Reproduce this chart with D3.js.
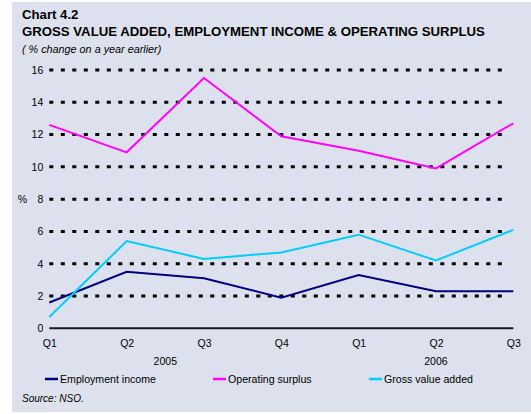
<!DOCTYPE html>
<html>
<head>
<meta charset="utf-8">
<script src="https://cdn.jsdelivr.net/npm/d3@7"></script>
<style>
  html, body { margin: 0; padding: 0; background: #ffffff; }
  svg { display: block; font-family: "Liberation Sans", Arial, sans-serif; }
</style>
</head>
<body>
<svg id="chart" width="531" height="414"></svg>
<script>
// Quarterly periods, Q1 2005 to Q3 2006
const quarters = ["Q1", "Q2", "Q3", "Q4", "Q1", "Q2", "Q3"];
const years = ["2005", "2005", "2005", "2005", "2006", "2006", "2006"];

// % change on a year earlier
const employmentIncome = [1.6, 3.5, 3.1, 1.9, 3.3, 2.3, 2.3];
const operatingSurplus = [12.6, 10.9, 15.5, 11.9, 11.0, 9.9, 12.7];
const grossValueAdded = [0.7, 5.4, 4.3, 4.7, 5.8, 4.2, 6.1];

const yTicks = [0, 2, 4, 6, 8, 10, 12, 14, 16];

const seriesNames = ["Employment income", "Operating surplus", "Gross value added"];
const seriesColors = ["#000080", "#ff00ff", "#00ccff"];

const series = [employmentIncome, operatingSurplus, grossValueAdded].map((values, i) => ({
  name: seriesNames[i], color: seriesColors[i], values
}));

const svg = d3.select("#chart");

// panel background
svg.append("rect")
  .attr("x", 12).attr("y", 2)
  .attr("width", 519).attr("height", 410)
  .attr("fill", "#dce1ed");

// titles
svg.append("text").attr("x", 22).attr("y", 18.5)
  .attr("font-size", 13.2).attr("font-weight", "bold").attr("fill", "#000")
  .text("Chart 4.2");
svg.append("text").attr("x", 22).attr("y", 36)
  .attr("font-size", 13.2).attr("font-weight", "bold").attr("fill", "#000")
  .text("GROSS VALUE ADDED, EMPLOYMENT INCOME & OPERATING SURPLUS");
svg.append("text").attr("x", 22).attr("y", 53)
  .attr("font-size", 10.8).attr("font-style", "italic").attr("fill", "#000")
  .text("( % change on a year earlier)");

// scales
const x = d3.scaleLinear().domain([0, quarters.length - 1]).range([49.3, 513.3]);
const y = d3.scaleLinear().domain([0, 16]).range([328.3, 70]);

// dotted horizontal gridlines
const grid = svg.append("g");
grid.selectAll("line.grid")
  .data(yTicks.filter(d => d > 0))
  .join("line")
  .attr("class", "grid")
  .attr("x1", x(0)).attr("x2", 507)
  .attr("y1", d => y(d)).attr("y2", d => y(d))
  .attr("stroke", "#000").attr("stroke-width", 3)
  .attr("stroke-dasharray", "4,7.5");

// value axis labels
const yAxis = d3.axisLeft(y).tickValues(yTicks).tickSize(0).tickPadding(6).tickFormat(d3.format("d"));
svg.append("g")
  .attr("transform", `translate(${x(0)},0)`)
  .call(yAxis)
  .call(g => g.select(".domain").remove())
  .call(g => g.selectAll("text").attr("font-size", 10.5).attr("fill", "#000")
    .attr("font-family", "'Liberation Sans', Arial, sans-serif"));

svg.append("text").attr("x", 27).attr("y", y(8)).attr("dy", "0.35em")
  .attr("text-anchor", "end").attr("font-size", 10.5).attr("fill", "#000")
  .text("%");

// zero baseline
svg.append("line")
  .attr("x1", x(0)).attr("x2", x(quarters.length - 1))
  .attr("y1", y(0)).attr("y2", y(0))
  .attr("stroke", "#1a1a1a").attr("stroke-width", 2);

// quarter labels
const xAxis = d3.axisBottom(x).tickValues(d3.range(quarters.length)).tickSize(0).tickPadding(11)
  .tickFormat(i => quarters[i]);
svg.append("g")
  .attr("transform", `translate(0,${y(0)})`)
  .call(xAxis)
  .call(g => g.select(".domain").remove())
  .call(g => g.selectAll("text").attr("font-size", 10.5).attr("fill", "#000")
    .attr("font-family", "'Liberation Sans', Arial, sans-serif"));

// year labels, centred under each year's quarters
const yearGroups = d3.groups(d3.range(years.length), i => years[i]);
svg.append("g").selectAll("text")
  .data(yearGroups)
  .join("text")
  .attr("x", d => x(d3.mean(d[1])))
  .attr("y", 365)
  .attr("text-anchor", "middle")
  .attr("font-size", 10.5).attr("fill", "#000")
  .text(d => d[0]);

// series lines
const line = d3.line().x((d, i) => x(i)).y(d => y(d));
svg.append("g").selectAll("path")
  .data(series)
  .join("path")
  .attr("d", d => line(d.values))
  .attr("fill", "none")
  .attr("stroke", d => d.color)
  .attr("stroke-width", 2)
  .attr("stroke-linejoin", "miter");

// legend
const legendX = [45, 213, 369];
const legend = svg.append("g").selectAll("g")
  .data(series)
  .join("g")
  .attr("transform", (d, i) => `translate(${legendX[i]},379)`);
legend.append("line")
  .attr("x1", 0).attr("x2", 13).attr("y1", 0).attr("y2", 0)
  .attr("stroke", d => d.color).attr("stroke-width", 2.5);
legend.append("text")
  .attr("x", 15).attr("dy", "0.35em")
  .attr("font-size", 10.6).attr("fill", "#000")
  .text(d => d.name);

// source note
svg.append("text").attr("x", 22).attr("y", 402)
  .attr("font-size", 10).attr("font-style", "italic").attr("fill", "#000")
  .text("Source: NSO.");
</script>
</body>
</html>
